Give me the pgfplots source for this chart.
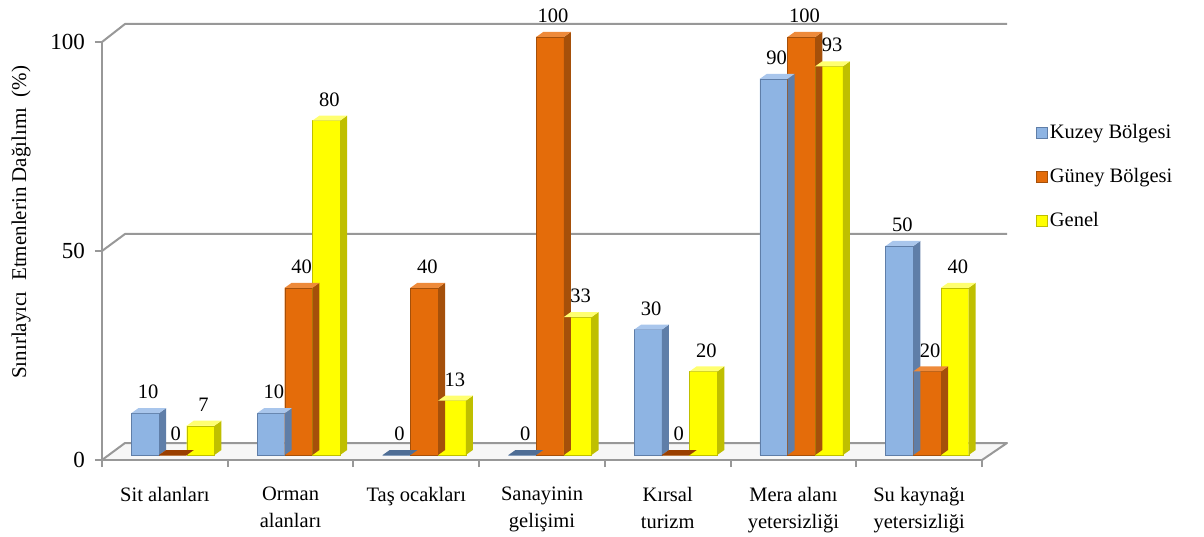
\documentclass[border=0pt]{standalone}
\usepackage{pgfplots}
\pgfplotsset{compat=1.18}
\usepackage{fontspec}
\setmainfont{Liberation Serif}
\definecolor{framegray}{RGB}{152,152,152}
\definecolor{kface}{HTML}{8EB4E3}
\definecolor{kside}{HTML}{5F7EA8}
\definecolor{kcap}{HTML}{A9C6EC}
\definecolor{kzero}{HTML}{4F6E96}
\definecolor{gface}{HTML}{E46C0A}
\definecolor{gside}{HTML}{A5500A}
\definecolor{gcap}{HTML}{EE8A3A}
\definecolor{gzero}{HTML}{9A3F00}
\definecolor{yface}{HTML}{FFFF00}
\definecolor{yside}{HTML}{BFBF00}
\definecolor{ycap}{HTML}{FFFF70}
\definecolor{yzero}{HTML}{A0A000}
\newcommand\lbl{\rmfamily\fontsize{20.5}{27}\selectfont}
% side face + top cap of a bar, drawn as a mark at the bar's data point
\newcommand\defside[5]{%
\pgfdeclareplotmark{#1}{%
 \pgfmathsetmacro\hh{\ry*4.18}%
 \pgfpathmoveto{\pgfpoint{#2pt+13.85pt}{0pt}}%
 \pgfpathlineto{\pgfpoint{#2pt+20.85pt}{5pt}}%
 \pgfpathlineto{\pgfpoint{#2pt+20.85pt}{5pt-\hh pt}}%
 \pgfpathlineto{\pgfpoint{#2pt+13.85pt}{-\hh pt}}%
 \pgfpathclose
 \pgfsetfillcolor{#3}\pgfusepath{fill}%
 \pgfpathmoveto{\pgfpoint{#2pt-13.85pt}{0pt}}%
 \pgfpathlineto{\pgfpoint{#2pt-6.85pt}{5pt}}%
 \pgfpathlineto{\pgfpoint{#2pt+20.85pt}{5pt}}%
 \pgfpathlineto{\pgfpoint{#2pt+13.85pt}{0pt}}%
 \pgfpathclose
 \ifdim\hh pt>0.01pt \pgfsetfillcolor{#4}\else\pgfsetfillcolor{#5}\fi
 \pgfusepath{fill}%
}}
\defside{sidek}{-27.7}{kside}{kcap}{kzero}
\defside{sideg}{0}{gside}{gcap}{gzero}
\defside{sidey}{27.7}{yside}{ycap}{yzero}

\pgfplotstableread{
x kuzey guney genel
0 10 0 7
1 10 40 80
2 0 40 13
3 0 100 33
4 30 0 20
5 90 100 93
6 50 20 40
}\datatable

\begin{document}
\begin{tikzpicture}[x=1pt,y=1pt]
\useasboundingbox (0,0) rectangle (1204,536);
% floor
\fill[gray!6] (102,76) -- (125,93) -- (1007,93) -- (982,76) -- cycle;
\draw[framegray, line width=2pt, line join=round] (102,76) -- (125,93) -- (1007,93) -- (982,76);
% back wall gridlines
\draw[framegray, line width=2pt, line join=round] (102,494) -- (125,512) -- (1007,512);
\draw[framegray, line width=2pt, line join=round] (102,285) -- (125,302) -- (1007,302);

% front axis with ticks and labels
\begin{axis}[
  at={(102pt,76pt)}, anchor=south west,
  scale only axis, width=880pt, height=418pt,
  xmin=-0.5, xmax=6.5, ymin=0, ymax=100,
  axis x line*=bottom, axis y line*=left,
  axis line style={framegray, line width=2pt, -},
  tick align=outside, major tick length=7pt,
  tick style={framegray, line width=2pt},
  xtick={-0.5,0.5,1.5,2.5,3.5,4.5,5.5,6.5}, xticklabels={},
  extra x ticks={0,1,2,3,4,5,6},
  extra x tick labels={Sit alanları,Orman\\alanları,Taş ocakları,Sanayinin\\gelişimi,Kırsal\\turizm,Mera alanı\\yetersizliği,Su kaynağı\\yetersizliği},
  extra x tick style={major tick length=0pt, tick style={draw=none},
    xticklabel style={font=\lbl, align=center, anchor=north, inner sep=0pt, yshift=-27pt}},
  ytick={0,50,100},
  yticklabel style={font=\rmfamily\fontsize{23}{26}\selectfont, inner sep=0pt, anchor=east, xshift=-10pt},
  /pgf/number format/assume math mode=true,
  ylabel={Sınırlayıcı\ \ Etmenlerin Dağılımı\ \ (\%)},
  ylabel style={font=\rmfamily\fontsize{21}{24}\selectfont, at={(axis description cs:-0.092,0.569)}, anchor=center},
]
\end{axis}

% bars
\begin{axis}[
  at={(110pt,81pt)}, anchor=south west,
  scale only axis, width=880pt, height=418pt,
  xmin=-0.5, xmax=6.5, ymin=0, ymax=100,
  hide axis, clip=false,
  /pgf/number format/assume math mode=true,
  legend style={at={(axis description cs:1.0523,0.792)}, anchor=north west,
    draw=none, fill=none, inner sep=0pt, row sep=26pt, column sep=0pt,
    font=\lbl, nodes={inner sep=0pt, text height=14pt, text depth=4pt}},
  legend cell align=left,
]
\pgfplotsset{bars/.style={ybar, bar width=27.7pt, draw=none,
  nodes near coords,
  nodes near coords style={font=\lbl, text=black, inner sep=0pt, anchor=south, yshift=14pt},
  legend image code/.code={\draw[##1, line width=1pt] (0pt,-5.5pt) rectangle (11pt,5.5pt); \node[anchor=west, inner sep=0pt] at (12pt,0pt) {};}}}
\addplot[bars, bar shift=-27.7pt, fill=kface, draw=kside, nodes near coords style={xshift=-24.7pt}] table[x=x, y=kuzey] {\datatable};
\addlegendentry{Kuzey Bölgesi}
\addplot[forget plot, only marks, scatter, mark=sidek, visualization depends on={rawy \as \ry}] table[x=x, y=kuzey] {\datatable};
\addplot[bars, bar shift=0pt, fill=gface, draw=gside, nodes near coords style={xshift=3pt}] table[x=x, y=guney] {\datatable};
\addlegendentry{Güney Bölgesi}
\addplot[forget plot, only marks, scatter, mark=sideg, visualization depends on={rawy \as \ry}] table[x=x, y=guney] {\datatable};
\addplot[bars, bar shift=27.7pt, fill=yface, draw=yside, nodes near coords style={xshift=30.7pt}] table[x=x, y=genel] {\datatable};
\addlegendentry{Genel}
\addplot[forget plot, only marks, scatter, mark=sidey, visualization depends on={rawy \as \ry}] table[x=x, y=genel] {\datatable};
\end{axis}
\end{tikzpicture}
\end{document}
